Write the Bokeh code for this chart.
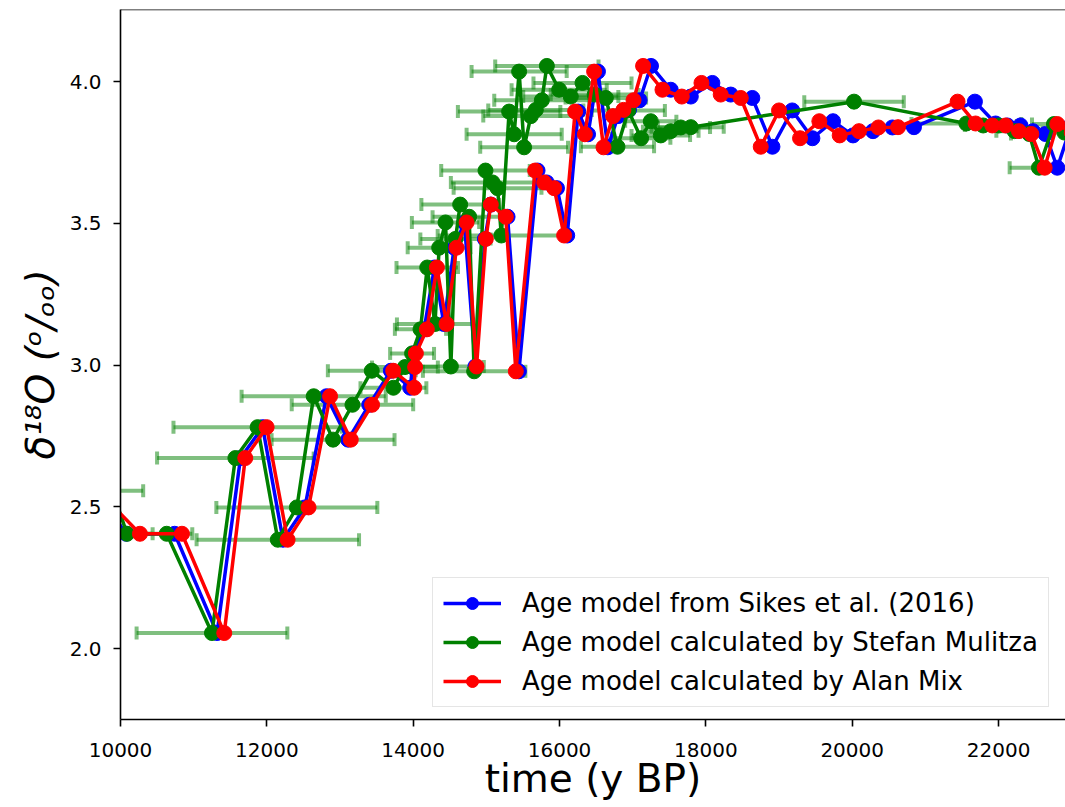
import numpy as np
from bokeh.plotting import figure
from bokeh.models import Range1d, FixedTicker, PrintfTickFormatter, Legend, LegendItem, Span
from bokeh.embed import file_html
from bokeh.resources import INLINE

# delta 18O of each sample (shared by the three age models)
d18o = [2.557, 2.405, 2.405, 2.055, 2.672, 2.781, 2.384, 2.498, 2.890, 2.737,
        2.860, 2.980, 2.920, 2.993, 3.041, 3.126, 3.344, 3.145, 3.414, 3.503,
        2.995, 3.445, 3.566, 3.523, 2.978, 3.686, 3.644, 3.624, 3.457, 3.894,
        3.814, 4.035, 3.768, 3.878, 3.900, 3.934, 4.055, 3.971, 3.947, 3.995,
        3.954, 3.942, 3.770, 3.898, 3.800, 3.860, 3.810, 3.825, 3.838, 3.839,
        3.929, 3.852, 3.845, 3.845, 3.825, 3.815, 3.696, 3.850, 3.820]

# age model from Sikes et al. (2016)
age_sikes = [9650, 10080, 10740, 11320, 11640, 11943, 12220, 12520, 12815, 13110,
             13400, 13695, 13960, 13990, 14000, 14150, 14290, 14420, 14560, 14700,
             14850, 14980, 15060, 15290, 15445, 15700, 15825, 15965, 16105, 16255,
             16390, 16525, 16660, 16800, 16950, 17095, 17250, 17520, 17794, 18089,
             18340, 18635, 18910, 19180, 19456, 19738, 20011, 20284, 20549, 20844,
             21677, 21960, 22120, 22300, 22470, 22640, 22803, 23000, 23150]

# age model calculated by Stefan Mulitza
age_mulitza = [9890, 10089, 10631, 11250, 11570, 11874, 12150, 12410, 12640, 12905,
               13170, 13434, 13730, 13887, 13985, 14100, 14192, 14298, 14355, 14442,
               14515, 14578, 14642, 14765, 14833, 14988, 15085, 15153, 15205, 15311,
               15380, 15448, 15516, 15608, 15676, 15758, 15827, 15995, 16154, 16314,
               16480, 16633, 16792, 16940, 17115, 17247, 17384, 17520, 17657, 17794,
               20025, 21560, 21790, 22000, 22220, 22420, 22552, 22757, 22900]

# age uncertainty of the Mulitza model (years)
err_mulitza = [420, 350, 350, 1030, 1070, 1150, 1110, 1100, 985, 840,
               830, 600, 450, 450, 300, 350, 420, 520, 430, 460,
               450, 480, 530, 500, 700, 605, 570, 600, 870, 700,
               650, 650, 600, 650, 650, 650, 706, 650, 650, 670,
               600, 550, 500, 500, 400, 350, 400, 380, 400, 450,
               680, 750, 250, 250, 250, 250, 400, 300, 300]

# age model calculated by Alan Mix
age_mix = [9693, 10266, 10840, 11418, 11705, 11997, 12284, 12570, 12864, 13147,
           13438, 13727, 14014, 14026, 14037, 14187, 14324, 14456, 14593, 14730,
           14866, 14993, 15061, 15266, 15403, 15667, 15790, 15926, 16063, 16213,
           16346, 16473, 16601, 16732, 16874, 17011, 17142, 17407, 17671, 17940,
           18203, 18477, 18750, 19000, 19287, 19551, 19829, 20093, 20358, 20626,
           21440, 21686, 21915, 22097, 22279, 22448, 22630, 22803, 23000]

x_ticks = [10000, 12000, 14000, 16000, 18000, 20000, 22000]
y_ticks = [2.0, 2.5, 3.0, 3.5, 4.0]
series_labels = ["Age model from Sikes et al. (2016)",
                 "Age model calculated by Stefan Mulitza",
                 "Age model calculated by Alan Mix"]

FONT = "DejaVu Sans"
Y_TOP = 4.254
p = figure(width=1065, height=807, output_backend="svg", toolbar_location=None,
           x_range=Range1d(10000, 22915), y_range=Range1d(1.750, Y_TOP),
           min_border_left=120, min_border_right=0, min_border_top=9,
           min_border_bottom=88)
p.outline_line_color = None
p.grid.visible = False
p.background_fill_color = "white"

for ax in (p.xaxis, p.yaxis):
    ax.axis_line_width = 1.6
    ax.axis_line_color = "black"
    ax.major_tick_line_width = 1.6
    ax.major_tick_out = 7
    ax.major_tick_in = 0
    ax.minor_tick_line_color = None
    ax.major_label_text_font = FONT
    ax.major_label_text_font_size = "20px"
    ax.major_label_text_color = "black"
    ax.axis_label_text_font = FONT
    ax.axis_label_text_font_size = "39px"
    ax.axis_label_text_color = "black"

p.xaxis.ticker = FixedTicker(ticks=x_ticks)
p.xaxis.formatter = PrintfTickFormatter(format="%d")
p.yaxis.ticker = FixedTicker(ticks=y_ticks)
p.yaxis.formatter = PrintfTickFormatter(format="%.1f")
p.xaxis.major_label_standoff = 16
p.yaxis.major_label_standoff = 12
p.xaxis.axis_label = "time (y BP)"
p.xaxis.axis_label_text_font_style = "normal"
p.xaxis.axis_label_standoff = -4
p.yaxis.axis_label = "δ¹⁸O (ᵒ/ₒₒ)"
p.yaxis.axis_label_text_font_style = "italic"
p.yaxis.axis_label_standoff = 4

# top spine
p.add_layout(Span(location=Y_TOP, dimension="width", line_color="black", line_width=1.6))

# error bars of the Mulitza model
g = np.array(age_mulitza, dtype=float)
e = np.array(err_mulitza, dtype=float)
y = np.array(d18o, dtype=float)
lo = g - e
hi = g + e
p.segment(x0=lo, y0=y, x1=hi, y1=y, line_color="green", line_alpha=0.5, line_width=4)
p.scatter(x=np.concatenate([lo, hi]), y=np.concatenate([y, y]), marker="dash",
          angle=np.pi / 2, size=13, line_color="green", line_alpha=0.5, line_width=4)

LW = 3.5
MS = 15
bl = p.line(age_sikes, d18o, line_color="blue", line_width=LW)
bs = p.scatter(age_sikes, d18o, size=MS, fill_color="blue", line_color="blue")
gl = p.line(age_mulitza, d18o, line_color="green", line_width=LW)
gs = p.scatter(age_mulitza, d18o, size=MS, fill_color="green", line_color="green")
rl = p.line(age_mix, d18o, line_color="red", line_width=LW)
rs = p.scatter(age_mix, d18o, size=MS, fill_color="red", line_color="red")

legend = Legend(items=[LegendItem(label=series_labels[0], renderers=[bl, bs]),
                       LegendItem(label=series_labels[1], renderers=[gl, gs]),
                       LegendItem(label=series_labels[2], renderers=[rl, rs])],
                location=(312, 12))
legend.label_text_font = FONT
legend.label_text_font_size = "26px"
legend.label_text_color = "black"
legend.glyph_width = 58
legend.glyph_height = 30
legend.label_height = 30
legend.label_standoff = 21
legend.spacing = 9
legend.padding = 10
legend.margin = 0
legend.border_line_color = "#cccccc"
legend.border_line_width = 1.5
legend.background_fill_alpha = 0.8
p.add_layout(legend)

open("out.html", "w").write(file_html(p, INLINE))
